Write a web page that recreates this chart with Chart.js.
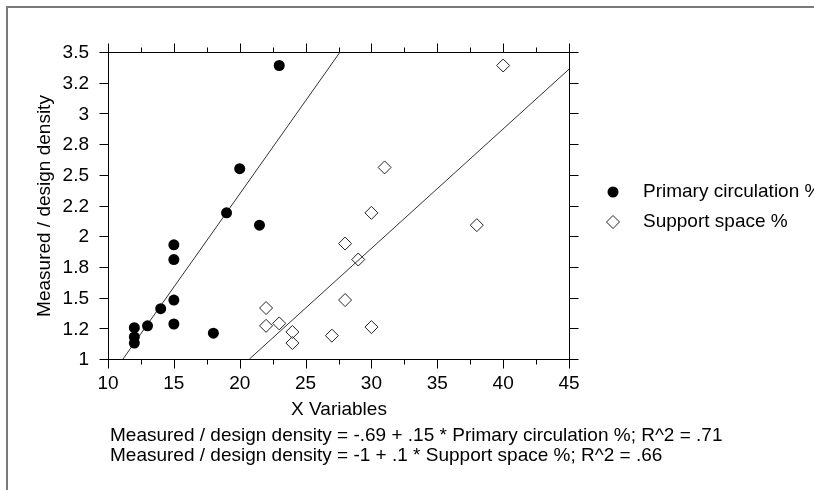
<!DOCTYPE html>
<html>
<head>
<meta charset="utf-8">
<script src="https://cdn.jsdelivr.net/npm/chart.js@4/dist/chart.umd.min.js"></script>
<style>
	body { margin: 0; background: #fff; }
	.chart { width: 814px; height: 490px; }
</style>
</head>
<body>
<div class="chart"><canvas id="plot" width="814" height="490"></canvas></div>
<script>
// values
const primaryX = [12, 12, 12, 13, 14, 15, 15, 15, 15, 18, 19, 20, 21.5, 23];
const primaryY = [1.13, 1.18, 1.255, 1.27, 1.41, 1.285, 1.48, 1.81, 1.93, 1.21, 2.19, 2.55, 2.09, 3.39];
const supportX = [22, 22, 23, 24, 24, 27, 28, 28, 29, 30, 30, 31, 38, 40];
const supportY = [1.415, 1.27, 1.29, 1.22, 1.13, 1.19, 1.48, 1.94, 1.81, 1.26, 2.19, 2.56, 2.09, 3.39];

// fitted lines, end points as drawn
const primaryFitX = [11.14, 27.62];
const primaryFitY = [1, 3.5];
const supportFitX = [20.74, 45];
const supportFitY = [1, 3.36];

const xTicks = [10, 15, 20, 25, 30, 35, 40, 45];
const xMinorTicks = [12.5, 17.5, 22.5, 27.5, 32.5, 37.5, 42.5];
const yTicks = [1, 1.25, 1.5, 1.75, 2, 2.25, 2.5, 2.75, 3, 3.25, 3.5];
const yTickLabels = ['1', '1.2', '1.5', '1.8', '2', '2.2', '2.5', '2.8', '3', '3.2', '3.5'];

const seriesNames = ['Primary circulation %', 'Support space %'];
const xTitle = 'X Variables';
const yTitle = 'Measured / design density';
const equations = [
	'Measured / design density = -.69 + .15 * Primary circulation %; R^2 = .71',
	'Measured / design density = -1 + .1 * Support space %; R^2 = .66'
];

const FONT = '19px "Liberation Sans", Arial, sans-serif';
const toPoints = (xs, ys) => xs.map((v, i) => ({ x: v, y: ys[i] }));

const frame = {
	id: 'frame',
	beforeDatasetsDraw(chart) {
		const { ctx, scales: { x, y } } = chart;
		const px = v => Math.round(x.getPixelForValue(v)) + 0.5;
		const py = v => Math.round(y.getPixelForValue(v)) + 0.5;
		const l = px(10), r = px(45), t = py(3.5), b = py(1);

		ctx.save();
		// outer border
		ctx.strokeStyle = '#7a7a7a';
		ctx.lineWidth = 2;
		ctx.beginPath();
		ctx.moveTo(7, 490);
		ctx.lineTo(7, 7);
		ctx.lineTo(814, 7);
		ctx.stroke();

		// plot box and ticks
		ctx.strokeStyle = '#000';
		ctx.lineWidth = 1;
		ctx.strokeRect(l, t, r - l, b - t);
		ctx.beginPath();
		xTicks.forEach(v => {
			const p = px(v);
			ctx.moveTo(p, b); ctx.lineTo(p, b + 9);
			ctx.moveTo(p, t); ctx.lineTo(p, t - 9);
		});
		xMinorTicks.forEach(v => {
			const p = px(v);
			ctx.moveTo(p, b); ctx.lineTo(p, b + 5);
			ctx.moveTo(p, t); ctx.lineTo(p, t - 5);
		});
		yTicks.forEach(v => {
			const p = py(v);
			ctx.moveTo(l, p); ctx.lineTo(l - 9, p);
			ctx.moveTo(r, p); ctx.lineTo(r + 9, p);
		});
		ctx.stroke();

		// tick labels
		ctx.fillStyle = '#000';
		ctx.font = FONT;
		ctx.textBaseline = 'middle';
		ctx.textAlign = 'center';
		xTicks.forEach(v => ctx.fillText(String(v), x.getPixelForValue(v), 384));
		ctx.textAlign = 'right';
		yTicks.forEach((v, i) => ctx.fillText(yTickLabels[i], 89, y.getPixelForValue(v) + 1));

		// axis titles
		ctx.textAlign = 'center';
		ctx.fillText(xTitle, (l + r) / 2, 410);
		ctx.save();
		ctx.translate(45, (t + b) / 2);
		ctx.rotate(-Math.PI / 2);
		ctx.fillText(yTitle, 0, 0);
		ctx.restore();

		// regression equations
		ctx.textAlign = 'left';
		equations.forEach((s, i) => ctx.fillText(s, 110, 436 + i * 20));

		// legend
		chart.data.datasets.slice(0, 2).forEach((ds, i) => {
			const cy = 192 + i * 30;
			ctx.beginPath();
			if (ds.pointStyle === 'circle') {
				ctx.arc(613, cy, 5.5, 0, Math.PI * 2);
				ctx.fillStyle = '#000';
				ctx.fill();
			} else {
				ctx.moveTo(606.5, cy); ctx.lineTo(613, cy - 6.5);
				ctx.lineTo(619.5, cy); ctx.lineTo(613, cy + 6.5);
				ctx.closePath();
				ctx.strokeStyle = '#222';
				ctx.stroke();
			}
			ctx.fillStyle = '#000';
			ctx.fillText(ds.label, 643, cy);
		});
		ctx.restore();
	}
};

new Chart(document.getElementById('plot').getContext('2d'), {
	type: 'scatter',
	data: {
		datasets: [
			{
				label: seriesNames[0],
				data: toPoints(primaryX, primaryY),
				pointStyle: 'circle',
				pointRadius: 5.5,
				backgroundColor: '#000',
				borderColor: '#000',
				borderWidth: 0
			},
			{
				label: seriesNames[1],
				data: toPoints(supportX, supportY),
				pointStyle: 'rectRot',
				pointRadius: 6.5,
				backgroundColor: 'rgba(255,255,255,0)',
				borderColor: '#222',
				borderWidth: 1
			},
			{
				label: 'fit primary',
				data: toPoints(primaryFitX, primaryFitY),
				showLine: true,
				pointRadius: 0,
				borderColor: '#333',
				borderWidth: 1
			},
			{
				label: 'fit support',
				data: toPoints(supportFitX, supportFitY),
				showLine: true,
				pointRadius: 0,
				borderColor: '#333',
				borderWidth: 1
			}
		]
	},
	options: {
		responsive: false,
		animation: false,
		events: [],
		layout: {
			padding: { left: 108, right: 245, top: 52, bottom: 131 }
		},
		scales: {
			x: { type: 'linear', min: 10, max: 45, display: false },
			y: { type: 'linear', min: 1, max: 3.5, display: false }
		},
		plugins: {
			legend: { display: false },
			tooltip: { enabled: false }
		}
	},
	plugins: [frame]
});
</script>
</body>
</html>
